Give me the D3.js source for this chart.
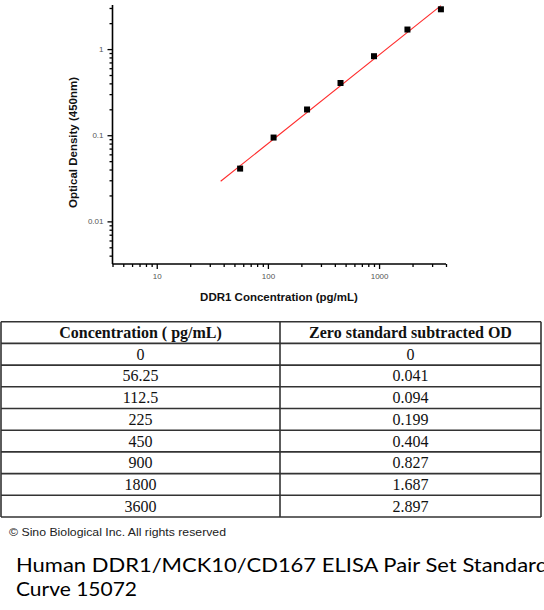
<!DOCTYPE html>
<html><head><meta charset="utf-8">
<script src="https://cdn.jsdelivr.net/npm/d3@7"></script>
<style>html,body{margin:0;padding:0;background:#fff;overflow:hidden}</style>
</head><body>
<svg id="c" width="544" height="610"></svg>
<script>
// ---- data ----
const concentrations = [56.25, 112.5, 225, 450, 900, 1800, 3600];
const odValues = [0.041, 0.094, 0.199, 0.404, 0.827, 1.687, 2.897];
const fitConc = [37.6, 3600];
const fitOD = [0.0292, 3.2];
const xTickLabels = [10, 100, 1000];
const yTickLabels = [0.01, 0.1, 1];
const xMinorTicks = [4,5,6,7,8,9,20,30,40,50,60,70,80,90,200,300,400,500,600,700,800,900,2000,3000,4000];
const yMinorTicks = [0.004,0.005,0.006,0.007,0.008,0.009,0.02,0.03,0.04,0.05,0.06,0.07,0.08,0.09,0.2,0.3,0.4,0.5,0.6,0.7,0.8,0.9,2,3];
const tableHeader = ["Concentration ( pg/mL)", "Zero standard subtracted OD"];
const tableConc = ["0", "56.25", "112.5", "225", "450", "900", "1800", "3600"];
const tableOD = ["0", "0.041", "0.094", "0.199", "0.404", "0.827", "1.687", "2.897"];
const copyright = "© Sino Biological Inc. All rights reserved";
const titleLines = ["Human DDR1/MCK10/CD167 ELISA Pair Set Standard", "Curve 15072"];

const svg = d3.select("#c");

// ---- scales ----
const x = d3.scaleLog().domain([4, 4000]).range([112.5, 446]);
const y = d3.scaleLog().domain([0.0032, 3.25]).range([264, 5]);

const g = svg.append("g");

// x axis
const xAxisMajor = d3.axisBottom(x).tickValues(xTickLabels).tickFormat(d3.format("d")).tickSize(5).tickPadding(4);
const xAxisMinor = d3.axisBottom(x).tickValues(xMinorTicks).tickFormat("").tickSize(3);
const gxm = g.append("g").attr("transform", "translate(0,264)").call(xAxisMinor);
const gx = g.append("g").attr("transform", "translate(0,264)").call(xAxisMajor);
[gx, gxm].forEach(a => { a.select(".domain").remove(); a.selectAll("line").attr("stroke", "#000").attr("stroke-width", 1.3); });
gx.selectAll("text").attr("font-family", "Liberation Sans, Arial, sans-serif").attr("font-size", 8).attr("fill", "#555");
g.append("line").attr("x1", x(4)).attr("x2", x(4000)).attr("y1", 264).attr("y2", 264).attr("stroke", "#000").attr("stroke-width", 1.6);

// y axis
const yAxisMajor = d3.axisLeft(y).tickValues(yTickLabels).tickFormat(d => d >= 1 ? "1" : String(d)).tickSize(5).tickPadding(4);
const yAxisMinor = d3.axisLeft(y).tickValues(yMinorTicks).tickFormat("").tickSize(3);
const gym = g.append("g").attr("transform", "translate(112.5,0)").call(yAxisMinor);
const gy = g.append("g").attr("transform", "translate(112.5,0)").call(yAxisMajor);
[gy, gym].forEach(a => { a.select(".domain").remove(); a.selectAll("line").attr("stroke", "#000").attr("stroke-width", 1.3); });
gy.selectAll("text").attr("font-family", "Liberation Sans, Arial, sans-serif").attr("font-size", 8).attr("fill", "#555");
g.append("line").attr("x1", 112.5).attr("x2", 112.5).attr("y1", y.range()[0]).attr("y2", y.range()[1]).attr("stroke", "#000").attr("stroke-width", 1.6);

// axis titles
g.append("text").attr("x", 279).attr("y", 301).attr("text-anchor", "middle")
  .attr("font-family", "Liberation Sans, Arial, sans-serif").attr("font-size", 11.5).attr("font-weight", "bold")
  .attr("fill", "#111").text("DDR1 Concentration (pg/mL)");
g.append("text").attr("transform", "translate(76.5,142.5) rotate(-90)").attr("text-anchor", "middle")
  .attr("font-family", "Liberation Sans, Arial, sans-serif").attr("font-size", 11.5).attr("font-weight", "bold")
  .attr("fill", "#111").text("Optical Density (450nm)");

// fit line
const fitData = fitConc.map((c, i) => [c, fitOD[i]]);
g.append("path").datum(fitData)
  .attr("d", d3.line().x(d => x(d[0])).y(d => y(d[1])))
  .attr("fill", "none").attr("stroke", "#ff2a2a").attr("stroke-width", 1.1);

// points
const pts = concentrations.map((c, i) => [c, odValues[i]]);
g.selectAll("rect.pt").data(pts).enter().append("rect").attr("class", "pt")
  .attr("x", d => x(d[0]) - 3).attr("y", d => y(d[1]) - 3)
  .attr("width", 6).attr("height", 6).attr("fill", "#000");

// ---- table ----
const tX0 = 1, tX1 = 541, tMid = 280, tTop = 321.7, rowH = 21.7;
const rows = [tableHeader].concat(tableConc.map((c, i) => [c, tableOD[i]]));
const rowScale = d3.scaleLinear().domain([0, rows.length]).range([tTop, tTop + rowH * rows.length]);
const tg = svg.append("g");
rows.forEach((r, i) => {
  const yc = (rowScale(i) + rowScale(i + 1)) / 2;
  [ (tX0 + tMid) / 2, (tMid + tX1) / 2 ].forEach((cx, j) => {
    tg.append("text").attr("x", cx).attr("y", yc + 5.5).attr("text-anchor", "middle")
      .attr("font-family", "Liberation Serif, Times New Roman, serif").attr("font-size", 16)
      .attr("font-weight", i === 0 ? "bold" : "normal").attr("fill", "#111").text(r[j]);
  });
});
d3.range(rows.length + 1).forEach(i => {
  tg.append("line").attr("x1", tX0).attr("x2", tX1).attr("y1", rowScale(i)).attr("y2", rowScale(i))
    .attr("stroke", "#333").attr("stroke-width", 1.6);
});
[tX0, tMid, tX1].forEach(xx => {
  tg.append("line").attr("x1", xx).attr("x2", xx).attr("y1", rowScale(0)).attr("y2", rowScale(rows.length))
    .attr("stroke", "#333").attr("stroke-width", 1.6);
});

// ---- footer ----
svg.append("text").attr("x", 9).attr("y", 536).attr("font-family", "Liberation Sans, Arial, sans-serif")
  .attr("font-size", 11.5).attr("fill", "#222").attr("textLength", 217).attr("lengthAdjust", "spacingAndGlyphs").text(copyright);
svg.append("text").attr("x", 16).attr("y", 572).attr("font-family", "Lato, Open Sans, sans-serif")
  .attr("font-size", 20).attr("fill", "#000").attr("textLength", 532).attr("lengthAdjust", "spacingAndGlyphs").text(titleLines[0]);
svg.append("text").attr("x", 16).attr("y", 596).attr("font-family", "Lato, Open Sans, sans-serif")
  .attr("font-size", 20).attr("fill", "#000").attr("textLength", 121).attr("lengthAdjust", "spacingAndGlyphs").text(titleLines[1]);
</script>
</body></html>
